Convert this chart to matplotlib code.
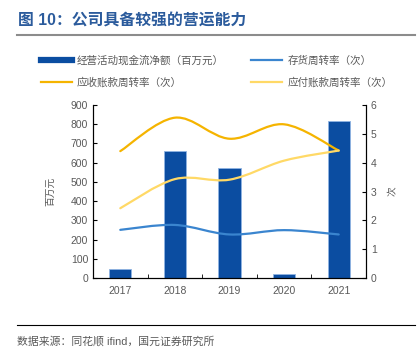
import numpy as np
import matplotlib
matplotlib.use("Agg")
import matplotlib.pyplot as plt
from matplotlib.path import Path
from matplotlib.patches import PathPatch
from matplotlib.lines import Line2D

plt.rcParams['font.family'] = ['Liberation Sans', 'Noto Sans CJK SC', 'DejaVu Sans']

years = ["2017", "2018", "2019", "2020", "2021"]
cash_flow = [45, 659, 570, 23, 815]          # 经营活动现金流净额（百万元）
inventory_turn = [1.67, 1.84, 1.51, 1.66, 1.51]   # 存货周转率
receivable_turn = [4.40, 5.56, 4.83, 5.33, 4.42]  # 应收账款周转率
payable_turn = [2.42, 3.43, 3.41, 4.07, 4.42]     # 应付账款周转率

BAR_C = "#0B4DA1"
INV_C = "#3A85CF"
REC_C = "#F5B400"
PAY_C = "#FFD966"
GREY = "#595959"


def smooth_path(xs, ys):
    """Courbe lissée type Excel (Bezier Catmull-Rom) passant par les points."""
    pts = np.column_stack([xs, ys]).astype(float)
    ext = np.vstack([pts[0], pts, pts[-1]])
    verts = [tuple(pts[0])]
    codes = [Path.MOVETO]
    for i in range(len(pts) - 1):
        p0, p1, p2, p3 = ext[i], ext[i + 1], ext[i + 2], ext[i + 3]
        c1 = p1 + (p2 - p0) / 6
        c2 = p2 - (p3 - p1) / 6
        verts += [tuple(c1), tuple(c2), tuple(p2)]
        codes += [Path.CURVE4] * 3
    return Path(verts, codes)


fig = plt.figure(figsize=(4.2, 3.56), dpi=100)
ax = fig.add_axes([93 / 420, 1 - 278 / 356, 273 / 420, 173 / 356])
ax2 = ax.twinx()

x = np.arange(len(years))
ax.bar(x, cash_flow, width=0.41, color=BAR_C, edgecolor="#8FB4E3", linewidth=0.6, zorder=2)
ax.set_xlim(-0.5, 4.5)
ax.set_ylim(0, 900)
ax.set_yticks(range(0, 901, 100))
ax.set_xticks(x)
ax.set_xticklabels(years)
ax.set_xticks(np.arange(0.5, 4, 1), minor=True)
ax.tick_params(axis="x", which="major", length=0, colors=GREY, labelsize=7.5, pad=6)
ax.tick_params(axis="x", which="minor", direction="in", length=3)
ax.tick_params(axis="y", direction="in", length=3, colors=GREY, labelsize=7.5, labelcolor=GREY)
ax.tick_params(axis="y", color="black")
ax.set_ylabel("百万元", color=GREY, fontsize=7, labelpad=11)

for series, col in [(receivable_turn, REC_C), (payable_turn, PAY_C), (inventory_turn, INV_C)]:
    ax2.add_patch(PathPatch(smooth_path(x, series), facecolor="none", edgecolor=col,
                            linewidth=1.6, capstyle="round", zorder=3))
ax2.set_ylim(0, 6)
ax2.set_yticks(range(0, 7))
ax2.tick_params(axis="y", direction="in", length=3, labelsize=7.5, labelcolor=GREY)
ax2.set_ylabel("次", color=GREY, fontsize=7, labelpad=8)

for a in (ax, ax2):
    a.spines["top"].set_visible(False)
    for s in ("left", "right", "bottom"):
        a.spines[s].set_linewidth(0.8)

handles = [
    Line2D([], [], color=BAR_C, lw=4.5),
    Line2D([], [], color=REC_C, lw=1.6),
    Line2D([], [], color=INV_C, lw=1.6),
    Line2D([], [], color=PAY_C, lw=1.6),
]
labels = ["经营活动现金流净额（百万元）", "应收账款周转率（次）", "存货周转率（次）", "应付账款周转率（次）"]
leg = fig.legend(handles, labels, ncol=2, loc="upper left", bbox_to_anchor=(41 / 420, 1 - 55 / 356),
                 frameon=False, fontsize=7.6, handlelength=2.9, handletextpad=0.5,
                 columnspacing=2.6, labelspacing=1.1, borderpad=0, borderaxespad=0)
for t in leg.get_texts():
    t.set_color(GREY)

fig.text(18 / 420, 1 - 21 / 356, "图 10：公司具备较强的营运能力", color="#2B5B9C",
         fontsize=11.4, fontweight="bold", va="center", ha="left")
fig.add_artist(Line2D([17 / 420, 415 / 420], [1 - 35 / 356] * 2, color="#8C8C8C", lw=1.5))
fig.add_artist(Line2D([17 / 420, 415 / 420], [1 - 325 / 356] * 2, color="black", lw=0.8))
fig.text(17 / 420, 1 - 341 / 356, "数据来源：同花顺 ifind，国元证券研究所", color=GREY,
         fontsize=7.8, va="center", ha="left")

fig.savefig("out.png", dpi=100)
